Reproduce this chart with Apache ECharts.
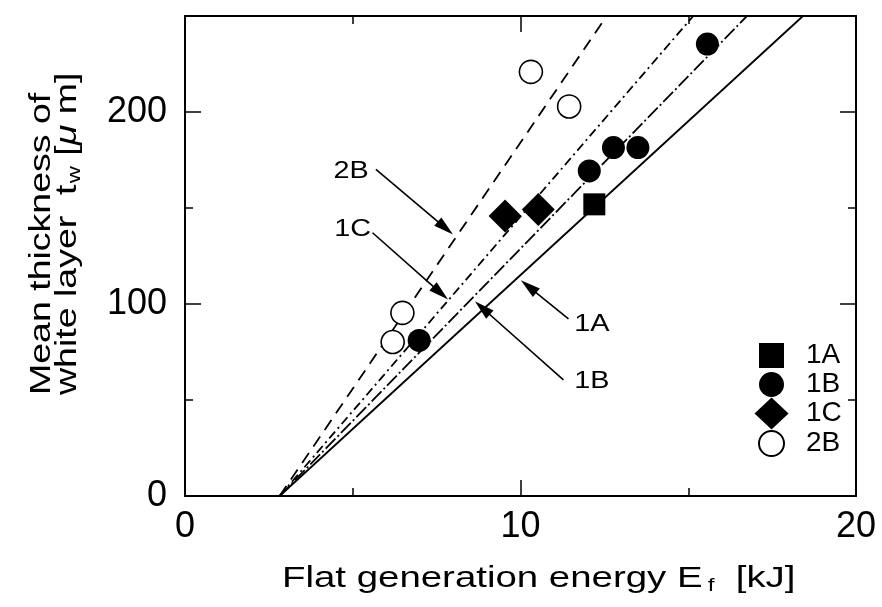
<!DOCTYPE html>
<html><head><meta charset="utf-8">
<script src="https://cdn.jsdelivr.net/npm/echarts@6/dist/echarts.min.js"></script>
<style>html,body{margin:0;padding:0;background:#fff}#c{width:882px;height:607px}</style>
</head><body><div id="c"></div>
<script>
// ---- data ----
const xTickLabels = [0, 10, 20];
const yTickLabels = [0, 100, 200];
const xRange = [0, 20];
const yRange = [0, 250];

const seriesNames = ['1A', '1B', '1C', '2B'];
const pts1A = [[12.2, 151.9]];
const pts1B = [[6.98, 81], [12.05, 169.3], [12.77, 181.5], [13.5, 181.5], [15.57, 235.4]];
const pts1C = [[9.54, 145.8], [10.53, 149.2]];
const pts2B = [[6.19, 80.2], [6.48, 95.4], [10.31, 220.9], [11.45, 202.9]];

const fit1A = [[2.82, 0], [18.42, 250]];
const fit1B = [[2.82, 0], [16.75, 250]];
const fit1C = [[2.82, 0], [15.15, 250]];
const fit2B = [[2.82, 0], [12.57, 250]];

// annotation label, text anchor, arrow start, arrow tip (data coords)
const annLabels = ['2B', '1C', '1A', '1B'];
const annText = [[4.95, 169.2], [5.0, 138.8], [12.13, 89.2], [12.13, 59.6]];
const annFrom = [[5.69, 170.1], [5.59, 137.1], [11.43, 92.2], [11.28, 60.5]];
const annTo = [[7.99, 136.2], [7.84, 102.3], [10.01, 112.4], [8.64, 101.4]];

// ---- chart ----
const FONT = '"Liberation Sans", Arial, Helvetica, sans-serif';
const chart = echarts.init(document.getElementById('c'), null, {renderer: 'canvas'});

function xAx(pos, interval, len, showLine, showLabel) {
  return {
    type: 'value', gridIndex: 0, position: pos, min: xRange[0], max: xRange[1], interval: interval,
    axisLine: {show: showLine, onZero: false, lineStyle: {color: '#000', width: 2}},
    axisTick: {show: true, inside: true, length: len, lineStyle: {color: '#000', width: 1.5}},
    axisLabel: {show: showLabel, margin: 13, fontSize: 36, fontFamily: FONT, color: '#000',
      formatter: v => xTickLabels.indexOf(v) >= 0 ? String(v) : ''},
    splitLine: {show: false}
  };
}
function yAx(pos, interval, len, showLine, showLabel) {
  return {
    type: 'value', gridIndex: 0, position: pos, min: yRange[0], max: yRange[1], interval: interval,
    axisLine: {show: showLine, onZero: false, lineStyle: {color: '#000', width: 2}},
    axisTick: {show: true, inside: true, length: len, lineStyle: {color: '#000', width: 1.5}},
    axisLabel: {show: showLabel, margin: 18, fontSize: 36, fontFamily: FONT, color: '#000',
      formatter: v => yTickLabels.indexOf(v) >= 0 ? String(v) : ''},
    splitLine: {show: false}
  };
}

function fitLine(name, data, type) {
  return {name: name, type: 'line', data: data, showSymbol: false, symbol: 'none', z: 2,
    lineStyle: {color: '#000', width: 1.8, type: type}, silent: true};
}
function scat(name, data, symbol, size, fill, border) {
  return {name: name, type: 'scatter', data: data, symbol: symbol, symbolSize: size, z: 5,
    itemStyle: {color: fill, borderColor: '#000', borderWidth: border, opacity: 1}};
}

// legend icons padded inside a 35x35 box so they keep their relative sizes
const iconSquare = 'path://M0,0 M35,35 M5,5 L30,5 L30,30 L5,30 Z';
const iconCircle = 'path://M0,0 M35,35 M5,17.5 A12.5,12.5 0 1,1 30,17.5 A12.5,12.5 0 1,1 5,17.5 Z';
const iconDiamond = 'path://M0,0 M35,35 M17.5,1.5 L34.5,17.5 L17.5,33.5 L0.5,17.5 Z';
const legendIcons = [iconSquare, iconCircle, iconDiamond, iconCircle];

const option = {
  animation: false,
  backgroundColor: '#fff',
  grid: {left: 185, right: 26, top: 16, bottom: 111, containLabel: false},
  xAxis: [xAx('bottom', 10, 16, true, true), xAx('bottom', 5, 8, false, false),
          xAx('top', 10, 16, true, false), xAx('top', 5, 8, false, false)],
  yAxis: [yAx('left', 100, 16, true, true), yAx('left', 50, 8, false, false),
          yAx('right', 100, 16, true, false), yAx('right', 50, 8, false, false)],
  legend: {
    orient: 'vertical', left: 748, top: 333, itemWidth: 35, itemHeight: 35, itemGap: -6,
    data: seriesNames.map((n, i) => ({name: n, icon: legendIcons[i]})), selectedMode: false,
    textStyle: {fontSize: 28, fontFamily: FONT, color: '#000', padding: [0, 0, 0, 12], lineHeight: 28}
  },
  series: [
    fitLine('fit 1A', fit1A, 'solid'),
    fitLine('fit 1B', fit1B, [14, 3, 2, 3]),
    fitLine('fit 1C', fit1C, [9, 4, 2, 4]),
    fitLine('fit 2B', fit2B, [12, 8]),
    scat(seriesNames[0], pts1A, 'rect', 22, '#000', 0),
    scat(seriesNames[1], pts1B, 'circle', 23, '#000', 0),
    scat(seriesNames[2], pts1C, 'diamond', 33, '#000', 0),
    scat(seriesNames[3], pts2B, 'circle', 23, '#fff', 1.6)
  ]
};
chart.setOption(option);

// ---- annotations and axis titles ----
const finder = {xAxisIndex: 0, yAxisIndex: 0};
const g = [];
for (let i = 0; i < annLabels.length; i++) {
  const t = chart.convertToPixel(finder, annText[i]);
  const a = chart.convertToPixel(finder, annFrom[i]);
  const b = chart.convertToPixel(finder, annTo[i]);
  const dx = b[0] - a[0], dy = b[1] - a[1], L = Math.hypot(dx, dy);
  const ux = dx / L, uy = dy / L, hl = 20, hw = 5.5;
  const bx = b[0] - ux * hl, by = b[1] - uy * hl;
  g.push({type: 'line', shape: {x1: a[0], y1: a[1], x2: bx + ux * 2, y2: by + uy * 2},
    style: {stroke: '#000', lineWidth: 1.6}, z: 10});
  g.push({type: 'polygon', shape: {points: [[b[0], b[1]], [bx - uy * hw, by + ux * hw], [bx + uy * hw, by - ux * hw]]},
    style: {fill: '#000'}, z: 10});
  g.push({type: 'text', x: t[0], y: t[1], scaleX: 1.2, z: 10,
    style: {text: annLabels[i], fontSize: 24, fontFamily: FONT, fill: '#000', align: 'center', verticalAlign: 'middle'}});
}
// y axis title (two lines, rotated)
g.push({type: 'text', x: 42, y: 395, rotation: Math.PI / 2, scaleX: 1.25, z: 10,
  style: {text: 'Mean thickness of', fontSize: 30, fontFamily: FONT, fill: '#000', align: 'left', verticalAlign: 'middle'}});
g.push({type: 'text', x: 68, y: 395, rotation: Math.PI / 2, scaleX: 1.25, z: 10,
  style: {text: '{n|white layer  t}{s|w}{n| [}{m|\u03bc}{n| m]}', fontSize: 30, fontFamily: FONT, fill: '#000',
    align: 'left', verticalAlign: 'middle',
    rich: {n: {fontSize: 30, fontFamily: FONT, fill: '#000'},
           s: {fontSize: 19, fontFamily: FONT, fill: '#000', padding: [14, 0, 0, 1]},
           m: {fontSize: 30, fontFamily: FONT, fontStyle: 'italic', fill: '#000'}}}});
// x axis title
g.push({type: 'text', x: 282, y: 579, scaleX: 1.28, z: 10,
  style: {text: '{n|Flat generation energy E}{s|f}{n|  [kJ]}', fontSize: 30, fontFamily: FONT, fill: '#000',
    align: 'left', verticalAlign: 'middle',
    rich: {n: {fontSize: 30, fontFamily: FONT, fill: '#000'},
           s: {fontSize: 19, fontFamily: FONT, fill: '#000', padding: [14, 0, 0, 4]}}}});
chart.setOption({graphic: g});
</script>
</body></html>
